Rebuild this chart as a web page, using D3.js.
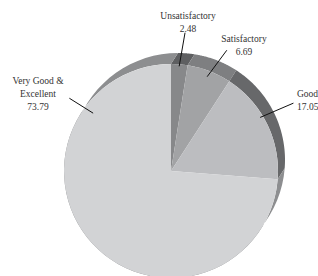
<!DOCTYPE html>
<html>
<head>
<meta charset="utf-8">
<script src="https://cdn.jsdelivr.net/npm/d3@7"></script>
<style>
  body { margin: 0; background: #fff; }
  svg { display: block; }
  text { font-family: "Liberation Serif", "DejaVu Serif", serif; font-size: 9.5px; fill: #333; }
</style>
</head>
<body>
<svg id="chart" width="318" height="276"></svg>
<script>
// data, clockwise from 12 o'clock
const categories = ["Unsatisfactory", "Satisfactory", "Good", "Very Good & Excellent"]
const values = [2.48, 6.69, 17.05, 73.79]
const labelLines = [["Unsatisfactory"], ["Satisfactory"], ["Good"], ["Very Good &", "Excellent"]]

// colours
const faceColor = ["#87888a", "#a2a3a5", "#bcbdc0", "#d2d3d5"]
const sideColor = ["#5e5f61", "#7e7f81", "#67686a", "#8d8e90"]

const width = 318, height = 276
const cx = 171, cy = 171, r = 107
const depth = {dx: 7, dy: -11}   // extrusion toward the back

// label layout: leader line inner/outer point (angle in deg from north, radius), text anchor
const labelPos = [
    {a1: null, r1: 105, a2: 5.8, r2: 139, tx: 188, ty: 19, anchor: "middle"},
    {a1: null, r1: 101, a2: 24.8, r2: 133, tx: 244, ty: 42, anchor: "middle"},
    {a1: 59, r1: 104, a2: 61, r2: 140, tx: 297, ty: 97, anchor: "start"},
    {a1: 306.6, r1: 97, a2: 305.6, r2: 125, tx: 38, ty: 84, anchor: "middle"}
]

const svg = d3.select("#chart")
const g = svg.append("g")

const pie = d3.pie().sort(null).value(d => d)
const arcs = pie(values)

const arc = d3.arc().innerRadius(0).outerRadius(r)

// point on a circle, angle measured clockwise from north
function pt(ang, rad, ox, oy){
    return [ox + rad * Math.sin(ang), oy - rad * Math.cos(ang)]
}

// side wall of each slice: front arc, then back arc reversed
function sidePath(d){
    const p = d3.path()
    const steps = 60
    for(let i = 0;i <= steps;i++){
        const a = d.startAngle + (d.endAngle - d.startAngle) * i / steps
        const q = pt(a, r, cx, cy)
        if(i === 0) p.moveTo(q[0], q[1])
        else p.lineTo(q[0], q[1])
    }
    for(let i = steps;i >= 0;i--){
        const a = d.startAngle + (d.endAngle - d.startAngle) * i / steps
        const q = pt(a, r, cx + depth.dx, cy + depth.dy)
        p.lineTo(q[0], q[1])
    }
    p.closePath()
    return p.toString()
}

g.selectAll("path.side")
    .data(arcs)
    .join("path")
    .attr("class", "side")
    .attr("d", sidePath)
    .attr("fill", (d, i) => sideColor[i])

g.selectAll("path.face")
    .data(arcs)
    .join("path")
    .attr("class", "face")
    .attr("transform", `translate(${cx},${cy})`)
    .attr("d", arc)
    .attr("fill", (d, i) => faceColor[i])

// labels
const deg = Math.PI / 180
arcs.forEach((d, i) => {
    const lp = labelPos[i]
    const mid = (d.startAngle + d.endAngle) / 2
    const a1 = lp.a1 === null ? mid : lp.a1 * deg
    const p1 = pt(a1, lp.r1, cx, cy)
    const p2 = pt(lp.a2 * deg, lp.r2, cx, cy)
    g.append("line")
        .attr("x1", p1[0]).attr("y1", p1[1])
        .attr("x2", p2[0]).attr("y2", p2[1])
        .attr("stroke", "#111")
        .attr("stroke-width", 1)

    const t = g.append("text")
        .attr("x", lp.tx)
        .attr("y", lp.ty)
        .attr("text-anchor", lp.anchor)
    const lines = labelLines[i].concat([values[i].toFixed(2)])
    lines.forEach((s, k) => {
        t.append("tspan")
            .attr("x", lp.tx)
            .attr("dy", k === 0 ? 0 : 13)
            .text(s)
    })
})
</script>
</body>
</html>
